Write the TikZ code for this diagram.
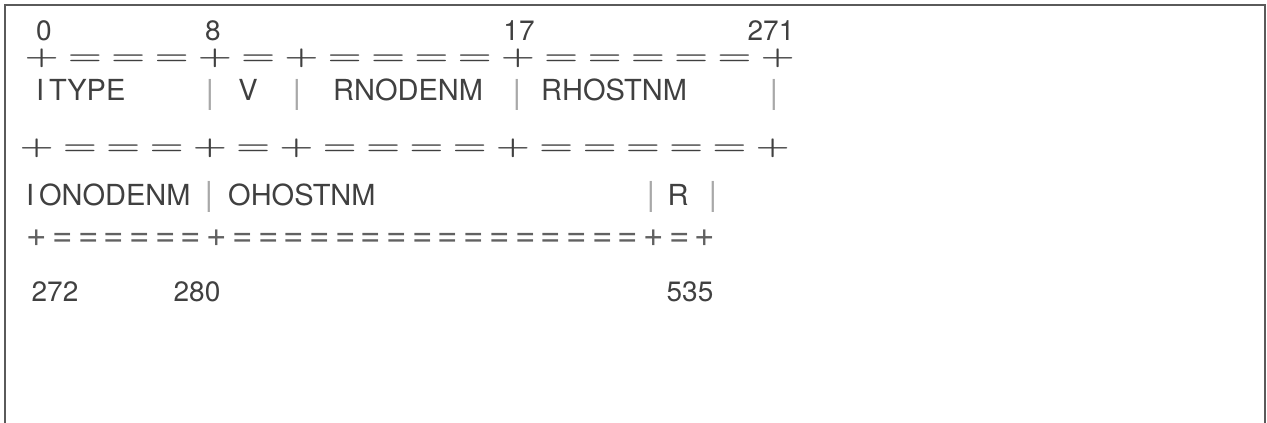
\documentclass[tikz,border=0pt]{standalone}
\usepackage{graphicx}
\usepackage{fontspec}
\setmainfont{TeX Gyre Heros}
\usepackage{tikz}
\usetikzlibrary{positioning}

\definecolor{txt}{HTML}{404040}
\definecolor{rulegray}{HTML}{505050}
\definecolor{bargray}{HTML}{A8A8A8}
\definecolor{framegray}{HTML}{5A5A5A}

% stretched rule signs of the two upper rules
\newcommand{\wplus}{\scalebox{1.57}[1]{\usefont{OT1}{cmr}{bx}{n}+}}
\newcommand{\wequal}{\scalebox{1.57}[1]{\usefont{OT1}{cmr}{bx}{n}=}}

\tikzset{
    num/.style={font=\fontsize{28}{30}\selectfont, text=txt, anchor=base, inner sep=0pt},
    fld/.style={font=\fontsize{29}{31}\selectfont, text=txt, anchor=base west, inner sep=0pt},
    vbar/.style={font=\fontsize{33}{35}\selectfont, text=bargray, inner sep=0pt},
    wide/.style={font=\fontsize{25}{27}\selectfont, text=txt, inner sep=0pt,
        text height=15.8pt, text depth=3.3pt},
    narrow/.style={font=\fontsize{35}{37}\selectfont, text=rulegray!90, inner sep=0pt,
        text height=17.7pt, text depth=0pt},
}

\begin{document}
\begin{tikzpicture}[x=1pt, y=-1pt]
    \useasboundingbox (0, 0) rectangle (1267, 423);

    % Frame, open at the bottom
    \draw[framegray, line width=2pt] (5, 423) -- (5, 5) -- (1265, 5) -- (1265, 423);

    % Bit numbers above the first rule
    \node[num] (n0) at (44, 40) {0};
    \node[num] (n8) at (213, 40) {8};
    \node[num] (n17) at (519, 40) {17};
    \node[num] (n271) at (771, 40) {271};

    % First and second rule
    \foreach \r/\xo/\yc in {a/41.7/58, b/36.7/148} {
        \foreach \k in {0, 4, 6, 11, 17} {
            \node[wide] (\r p\k) at ({\xo + 43.3*\k}, \yc) {\wplus};
        }
        \foreach \k in {1, 2, 3, 5, 7, 8, 9, 10, 12, 13, 14, 15, 16} {
            \node[wide] (\r e\k) at ({\xo + 43.3*\k}, \yc) {\wequal};
        }
    }

    % First line of fields
    \node[fld] (itype) at (36, 100) {I\,TYPE};
    \node[vbar] (b1) at (210, 95) {|};
    \node[fld, anchor=base] (v) at (248, 100) {V};
    \node[vbar] (b2) at (297, 95) {|};
    \node[fld] (rnode) at (333, 100) {RNODENM};
    \node[vbar] (b3) at (517, 95) {|};
    \node[fld] (rhost) at (541, 100) {RHOSTNM};
    \node[vbar] (b4) at (774, 95) {|};

    % Second line of fields
    \node[fld] (onode) at (26, 205) {I\,ONODENM};
    \node[vbar] (b5) at (209, 197) {|};
    \node[fld] (ohost) at (228, 205) {OHOSTNM};
    \node[vbar] (b6) at (651, 197) {|};
    \node[fld, anchor=base] (r) at (678, 205) {R};
    \node[vbar] (b7) at (713, 197) {|};

    % Third rule
    \foreach \k in {0, 7, 24, 26} {
        \node[narrow] (cp\k) at ({37 + 25.7*\k}, 238) {+};
    }
    \foreach \k in {1, ..., 6, 8, 9, ..., 23, 25} {
        \node[narrow] (ce\k) at ({37 + 25.7*\k}, 238) {=};
    }

    % Bit numbers below
    \node[num] (n272) at (55, 301) {272};
    \node[num] (n280) at (197, 301) {280};
    \node[num] (n535) at (690, 301) {535};
\end{tikzpicture}
\end{document}
